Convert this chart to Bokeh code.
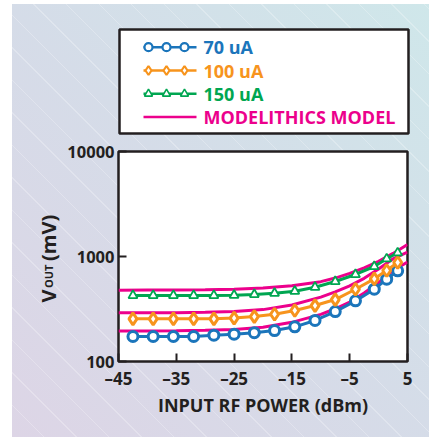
from bokeh.plotting import figure
from bokeh.models import Range1d, FixedTicker, Column, Row
from bokeh.core.properties import value
from bokeh.embed import file_html
from bokeh.resources import INLINE
import math

# ---------------- data ----------------
power_dbm = [-42.5, -39, -35.5, -32, -28.5, -25, -21.5, -18, -14.5, -11, -7.5, -4, -0.75, 1.4, 3.3]
vout_70ua = [173, 173, 173, 173, 178, 182, 188, 197, 214, 246, 299, 378, 488, 608, 731]
vout_100ua = [255, 255, 255, 255, 255, 259, 268, 282, 306, 341, 389, 488, 613, 735, 877]
vout_150ua = [425, 425, 425, 425, 425, 428, 435, 447, 467, 510, 578, 674, 803, 951, 1085]

model_dbm = [-45, -40, -35, -30, -25, -20, -15, -10, -7.5, -5, -2.5, 0, 2.5, 5]
model_70ua = [195, 195, 196, 198, 202, 212, 236, 281, 318, 368, 450, 565, 735, 885]
model_100ua = [291, 291, 292, 294, 299, 312, 345, 410, 460, 525, 620, 760, 950, 1100]
model_150ua = [478, 479, 480, 483, 488, 500, 526, 576, 623, 690, 780, 900, 1070, 1300]

x_ticks = [-45, -35, -25, -15, -5, 5]
x_tick_labels = ["\u201345", "\u201335", "\u201325", "\u201315", "\u20135", "5"]
y_ticks = [100, 1000, 10000]
y_tick_labels = ["100", "1000", "10000"]

series_labels = ["70 uA", "100 uA", "150 uA"]
model_label = "MODELITHICS MODEL"
x_title = "INPUT RF POWER (dBm)"
y_title_parts = ["V", "OUT", "(mV)"]

# ---------------- styles ----------------
BLUE = "#1b75bb"
ORANGE = "#f7941d"
GREEN = "#00a651"
PINK = "#ec008c"
DARK = "#231f20"
FONT = "Open Sans"

FRAME_H = 210  # plot frame height in px (frames of a Row are aligned)
YT_W = 52

# ---------------- y title strip (frame aligned with main frame) ----------------
yt = figure(width=YT_W, height=298, x_range=Range1d(0, YT_W), y_range=Range1d(0, FRAME_H),
            output_backend="svg", toolbar_location=None,
            x_axis_location=None, y_axis_location=None,
            min_border=0, min_border_left=0, min_border_right=0,
            min_border_top=12, min_border_bottom=76)
yt.border_fill_alpha = 0
yt.background_fill_alpha = 0
yt.outline_line_color = None
yt.grid.visible = False
yt_sizes = ["20px", "11px", "20px"]
yt_pos = [59, 73.5, 100.5]
for txt, size, pos in zip(y_title_parts, yt_sizes, yt_pos):
    yt.text([36], [pos], text=[txt], angle=math.pi / 2, text_color=DARK,
            text_font=value(FONT), text_font_style="bold", text_font_size=size,
            text_align="left", text_baseline="alphabetic")

# ---------------- main chart ----------------
p = figure(width=417 - YT_W, height=298,
           x_range=Range1d(-45, 5), y_range=Range1d(100, 10000),
           y_axis_type="log", output_backend="svg", toolbar_location=None,
           min_border_left=105 - YT_W, min_border_right=22,
           min_border_top=12, min_border_bottom=76)
p.border_fill_alpha = 0
p.background_fill_color = "white"
p.outline_line_color = DARK
p.outline_line_width = 2.5
p.grid.visible = False

p.xaxis.ticker = FixedTicker(ticks=x_ticks)
p.xaxis.major_label_overrides = {t: l for t, l in zip(x_ticks, x_tick_labels)}
p.yaxis.ticker = FixedTicker(ticks=y_ticks)
p.yaxis.major_label_overrides = {t: l for t, l in zip(y_ticks, y_tick_labels)}

for ax in (p.xaxis[0], p.yaxis[0]):
    ax.axis_line_color = None
    ax.major_tick_in = 8
    ax.major_tick_out = 0
    ax.major_tick_line_color = DARK
    ax.major_tick_line_width = 2
    ax.minor_tick_line_color = None
    ax.major_label_text_font = FONT
    ax.major_label_text_font_style = "bold"
    ax.major_label_text_font_size = "17px"
    ax.major_label_text_color = DARK

p.yaxis.major_label_text_font_size = "16.5px"
p.xaxis.major_label_standoff = 5
p.yaxis.major_label_standoff = 4
p.xaxis.axis_label = x_title
p.xaxis.axis_label_standoff = 0
p.xaxis.axis_label_text_font = FONT
p.xaxis.axis_label_text_font_style = "bold"
p.xaxis.axis_label_text_font_size = "18px"
p.xaxis.axis_label_text_color = DARK

# model curves
for ys in (model_70ua, model_100ua, model_150ua):
    p.line(model_dbm, ys, line_color=PINK, line_width=3)

# measured series
p.line(power_dbm, vout_70ua, line_color=BLUE, line_width=3)
p.scatter(power_dbm, vout_70ua, marker="circle", size=10, line_color=BLUE,
          fill_color="white", line_width=3)
p.line(power_dbm, vout_100ua, line_color=ORANGE, line_width=3)
p.scatter(power_dbm, vout_100ua, marker="diamond", size=12, line_color=ORANGE,
          fill_color="white", line_width=3)
p.line(power_dbm, vout_150ua, line_color=GREEN, line_width=3)
p.scatter(power_dbm, vout_150ua, marker="triangle", size=9, line_color=GREEN,
          fill_color="white", line_width=1.8)

# ---------------- legend box ----------------
lg = figure(width=417, height=135, x_range=Range1d(0, 289), y_range=Range1d(104, 0),
            output_backend="svg", toolbar_location=None,
            x_axis_location=None, y_axis_location=None,
            min_border_left=107, min_border_right=21,
            min_border_top=25, min_border_bottom=6)
lg.border_fill_alpha = 0
lg.background_fill_color = "white"
lg.outline_line_color = DARK
lg.outline_line_width = 2.5
lg.grid.visible = False

row_y = [17.7 + 23.3 * i for i in range(4)]
sample_x = [24, 77]
marker_x = [29, 47, 65]
text_x = 84
legend_colors = [BLUE, ORANGE, GREEN]
legend_markers = [("circle", 8, 2.2), ("diamond", 9, 2.2), ("triangle", 8, 1.6)]

for i, (lab, col, (mk, sz, lw)) in enumerate(zip(series_labels, legend_colors, legend_markers)):
    lg.line(sample_x, [row_y[i]] * 2, line_color=col, line_width=2.5)
    lg.scatter(marker_x, [row_y[i]] * 3, marker=mk, size=sz, line_color=col,
               fill_color="white", line_width=lw)
    lg.text([text_x], [row_y[i]], text=[lab], text_color=col,
            text_font=value(FONT), text_font_style="bold", text_font_size="18px",
            text_baseline="middle", text_align="left")

lg.line(sample_x, [row_y[3]] * 2, line_color=PINK, line_width=2.5)
lg.text([text_x], [row_y[3]], text=[model_label], text_color=PINK,
        text_font=value(FONT), text_font_style="bold", text_font_size="18px",
        text_baseline="middle", text_align="left")

bg = ("repeating-linear-gradient(45deg, rgba(255,255,255,0) 0px, rgba(255,255,255,0) 22px, "
      "rgba(255,255,255,0.25) 22px, rgba(255,255,255,0.25) 23px), "
      "linear-gradient(45deg, #ddd5e6 0%, #d5dce8 50%, #cfe7ea 100%)")

layout = Column(children=[lg, Row(children=[yt, p], spacing=0)],
                margin=(4, 4, 1, 12), spacing=0, styles={"background": bg})

open("out.html", "w").write(file_html(layout, INLINE))
